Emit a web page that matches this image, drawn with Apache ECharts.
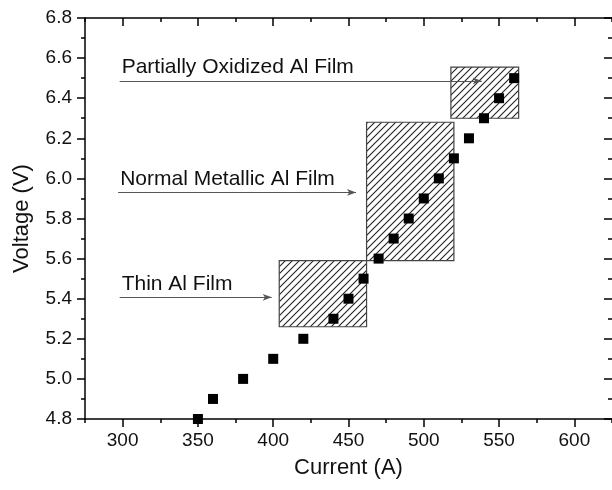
<!DOCTYPE html>
<html>
<head>
<meta charset="utf-8">
<script src="https://cdn.jsdelivr.net/npm/echarts@6/dist/echarts.min.js"></script>
<style>
html,body{margin:0;padding:0;background:#fff;}
#c{width:612px;height:490px;}
</style>
</head>
<body>
<div id="c"></div>
<script>
// Data
var currents = [350, 360, 380, 400, 420, 440, 450, 460, 470, 480, 490, 500, 510, 520, 530, 540, 550, 560];
var voltages = [4.8, 4.9, 5.0, 5.1, 5.2, 5.3, 5.4, 5.5, 5.6, 5.7, 5.8, 5.9, 6.0, 6.1, 6.2, 6.3, 6.4, 6.5];
var xTicks = [300, 350, 400, 450, 500, 550, 600];
// Hatched regions: [xStart, yStart, xEnd, yEnd]
var regionThin = [404, 5.26, 462, 5.59];
var regionNormal = [462, 5.59, 520, 6.28];
var regionPartial = [518, 6.30, 563, 6.555];
// Annotations: label, line y, line x start, line x end
var annotLabels = ['Partially Oxidized Al Film', 'Normal Metallic Al Film', 'Thin Al Film'];
var annotY = [6.486, 5.93, 5.407];
var annotX0 = [298, 297, 298];
var annotX1 = [538.5, 455, 399];
var xName = 'Current (A)';
var yName = 'Voltage (V)';

var FONT = 'Liberation Sans, Arial, sans-serif';

function makeHatch() {
  var s = 7;
  var cv = document.createElement('canvas');
  cv.width = s; cv.height = s;
  var ctx = cv.getContext('2d');
  ctx.fillStyle = '#fff';
  ctx.fillRect(0, 0, s, s);
  ctx.strokeStyle = '#222';
  ctx.lineWidth = 1.1;
  ctx.beginPath();
  ctx.moveTo(-1, s + 1); ctx.lineTo(s + 1, -1);
  ctx.moveTo(-2, 2); ctx.lineTo(2, -2);
  ctx.moveTo(s - 2, s + 2); ctx.lineTo(s + 2, s - 2);
  ctx.stroke();
  return cv;
}
var hatch = makeHatch();

function region(r) {
  return [{ coord: [r[0], r[1]] }, { coord: [r[2], r[3]] }];
}

var annotLines = annotLabels.map(function (t, i) {
  return [
    { coord: [annotX0[i], annotY[i]], label: { formatter: t } },
    { coord: [annotX1[i], annotY[i]] }
  ];
});

var chart = echarts.init(document.getElementById('c'), null, { renderer: 'canvas' });

var AX = { color: '#000', width: 1.5 };
var gridBox = { left: 85, top: 18, width: 528, bottom: 71, containLabel: false };

chart.setOption({
  animation: false,
  backgroundColor: '#fff',
  grid: [Object.assign({}, gridBox), Object.assign({}, gridBox)],
  xAxis: [
    {
      gridIndex: 0, type: 'value', min: 275, max: 625, position: 'bottom',
      name: xName, nameLocation: 'middle', nameGap: 38,
      nameTextStyle: { fontFamily: FONT, fontSize: 22, color: '#111' },
      axisLine: { show: true, onZero: false, lineStyle: AX },
      splitLine: { show: false },
      axisTick: { show: true, inside: false, length: 8, customValues: xTicks, lineStyle: AX },
      axisLabel: { fontFamily: FONT, fontSize: 19, color: '#111', margin: 12, customValues: xTicks }
    },
    {
      gridIndex: 0, type: 'value', min: 275, max: 625, position: 'top',
      axisLine: { show: true, onZero: false, lineStyle: AX },
      splitLine: { show: false },
      axisTick: { show: true, inside: true, length: 8, customValues: xTicks, lineStyle: AX },
      axisLabel: { show: false }
    },
    {
      gridIndex: 1, type: 'value', min: 275, max: 625, interval: 25, position: 'bottom',
      axisLine: { show: false, onZero: false },
      splitLine: { show: false },
      axisTick: { show: true, inside: false, length: 4, lineStyle: AX },
      axisLabel: { show: false }
    },
    {
      gridIndex: 1, type: 'value', min: 275, max: 625, interval: 25, position: 'top',
      axisLine: { show: false, onZero: false },
      splitLine: { show: false },
      axisTick: { show: true, inside: true, length: 4, lineStyle: AX },
      axisLabel: { show: false }
    }
  ],
  yAxis: [
    {
      gridIndex: 0, type: 'value', min: 4.8, max: 6.8, interval: 0.2, position: 'left',
      name: yName, nameLocation: 'middle', nameGap: 52,
      nameTextStyle: { fontFamily: FONT, fontSize: 22, color: '#111' },
      axisLine: { show: true, onZero: false, lineStyle: AX },
      splitLine: { show: false },
      axisTick: { show: true, inside: false, length: 8, lineStyle: AX },
      minorTick: { show: true, splitNumber: 2, length: 4, lineStyle: AX },
      axisLabel: {
        fontFamily: FONT, fontSize: 19, color: '#111', margin: 13,
        formatter: function (v) { return v.toFixed(1); }
      }
    },
    {
      gridIndex: 0, type: 'value', min: 4.8, max: 6.8, interval: 0.2, position: 'right',
      axisLine: { show: false, onZero: false, lineStyle: AX },
      splitLine: { show: false },
      axisTick: { show: true, inside: true, length: 8, lineStyle: AX },
      minorTick: { show: true, splitNumber: 2, length: 4, lineStyle: AX },
      axisLabel: { show: false }
    },
    {
      gridIndex: 1, type: 'value', min: 4.8, max: 6.8, show: false
    }
  ],
  series: [
    {
      type: 'scatter',
      xAxisIndex: 0, yAxisIndex: 0,
      z: 5,
      data: currents.map(function (c, i) { return [c, voltages[i]]; }),
      symbol: 'rect',
      symbolSize: 10,
      itemStyle: { color: '#000', opacity: 1 },
      clip: false
    },
    {
      type: 'scatter',
      xAxisIndex: 0, yAxisIndex: 0,
      z: 2,
      data: [],
      markArea: {
        silent: true,
        itemStyle: {
          color: { image: hatch, repeat: 'repeat' },
          borderColor: '#444', borderWidth: 1.2, opacity: 1
        },
        data: [region(regionThin), region(regionNormal), region(regionPartial)]
      },
      markLine: {
        silent: true,
        symbol: ['none', 'arrow'],
        symbolSize: [5, 9],
        lineStyle: { color: '#555', width: 1.2, type: 'solid' },
        label: {
          show: true, position: 'insideStartTop', distance: [2, 3],
          fontFamily: FONT, fontSize: 21, color: '#111'
        },
        data: annotLines
      }
    }
  ]
});
</script>
</body>
</html>
